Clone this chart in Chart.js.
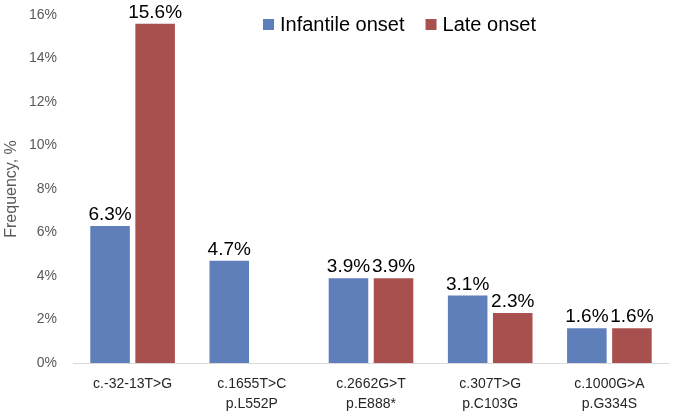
<!DOCTYPE html>
<html lang="en">
<head>
    <meta charset="UTF-8">
    <title>Variant frequency</title>
    <script src="https://cdn.jsdelivr.net/npm/chart.js@4.4.1/dist/chart.umd.min.js"></script>
    <style>
        html, body { margin: 0; padding: 0; background: #fff; }
        #wrap { width: 676px; height: 413px; }
    </style>
</head>
<body>
    <div id="wrap"><canvas id="grafico"></canvas></div>

    <script>
        // data
        const variants = [
            'c.-32-13T>G',
            ['c.1655T>C', 'p.L552P'],
            ['c.2662G>T', 'p.E888*'],
            ['c.307T>G', 'p.C103G'],
            ['c.1000G>A', 'p.G334S']
        ];
        const infantileOnset = [6.3, 4.7, 3.9, 3.1, 1.6];
        const lateOnset = [15.6, null, 3.9, 2.3, 1.6];
        const yTicks = [0, 2, 4, 6, 8, 10, 12, 14, 16];

        const fontFamily = 'Arial, "Liberation Sans", sans-serif';

        // value labels above the bars
        const valueLabels = {
            id: 'valueLabels',
            afterDatasetsDraw(chart) {
                const ctx = chart.ctx;
                ctx.save();
                ctx.font = '19px ' + fontFamily;
                ctx.fillStyle = '#000';
                ctx.textAlign = 'center';
                ctx.textBaseline = 'alphabetic';
                chart.data.datasets.forEach((ds, i) => {
                    const meta = chart.getDatasetMeta(i);
                    meta.data.forEach((bar, j) => {
                        const v = ds.data[j];
                        if (v === null || v === undefined) return;
                        ctx.fillText(v.toFixed(1) + '%', bar.x, bar.y - 6);
                    });
                });
                ctx.restore();
            }
        };

        // legend sits inside the plot, top right of centre
        const innerLegend = {
            id: 'innerLegend',
            afterDraw(chart) {
                const ctx = chart.ctx;
                ctx.save();
                ctx.font = '20px ' + fontFamily;
                ctx.textBaseline = 'middle';
                ctx.textAlign = 'left';
                let x = 263;
                const y = 25;
                chart.data.datasets.forEach(ds => {
                    ctx.fillStyle = ds.backgroundColor;
                    ctx.fillRect(x, y - 6, 11, 11);
                    ctx.fillStyle = '#000';
                    ctx.fillText(ds.label, x + 17, y);
                    x += 17 + ctx.measureText(ds.label).width + 21;
                });
                ctx.restore();
            }
        };

        new Chart(document.getElementById('grafico'), {
            type: 'bar',
            data: {
                labels: variants,
                datasets: [
                    { label: 'Infantile onset', data: infantileOnset, backgroundColor: '#5F7FBA' },
                    { label: 'Late onset', data: lateOnset, backgroundColor: '#A8504E' }
                ]
            },
            options: {
                responsive: true,
                maintainAspectRatio: false,
                animation: false,
                layout: { padding: { left: 2, right: 7, top: 15, bottom: 0 } },
                datasets: {
                    bar: { categoryPercentage: 0.756, barPercentage: 0.878 }
                },
                plugins: {
                    tooltip: { enabled: false },
                    legend: { display: false }
                },
                scales: {
                    x: {
                        afterFit(axis) {
                            axis.height = 50;
                        },
                        grid: { display: false, drawTicks: false },
                        border: { display: true, color: '#d9d9d9', width: 1 },
                        ticks: {
                            color: '#262626',
                            font: { family: fontFamily, size: 14, lineHeight: 1.45 },
                            maxRotation: 0,
                            padding: 11
                        }
                    },
                    y: {
                        min: 0,
                        max: 16,
                        afterBuildTicks(axis) {
                            axis.ticks = yTicks.map(v => ({ value: v }));
                        },
                        afterFit(axis) {
                            axis.width = 71;
                            axis.paddingTop = 0;
                            axis.paddingBottom = 0;
                        },
                        grid: { display: false, drawTicks: false },
                        border: { display: false },
                        ticks: {
                            color: '#595959',
                            font: { family: fontFamily, size: 14 },
                            padding: 16,
                            callback: v => v + '%'
                        },
                        title: {
                            display: true,
                            text: 'Frequency, %',
                            color: '#595959',
                            font: { family: fontFamily, size: 16 },
                            padding: 0
                        }
                    }
                }
            },
            plugins: [valueLabels, innerLegend]
        });
    </script>
</body>
</html>
